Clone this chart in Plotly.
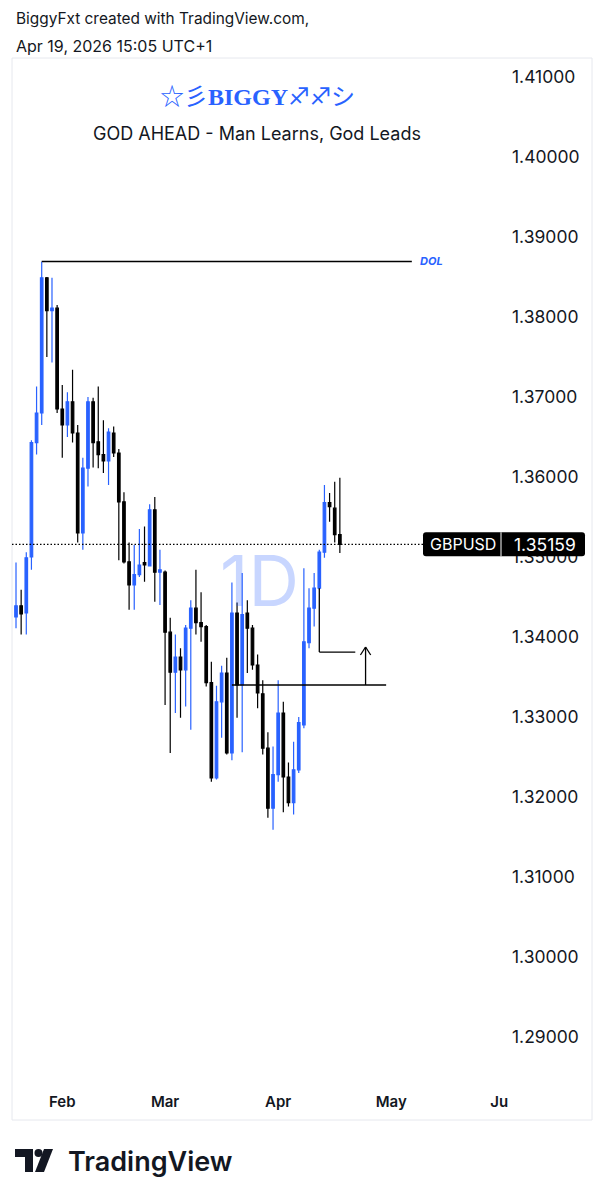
import plotly.graph_objects as go

# ---------------- data (GBPUSD, 1D) ----------------
dates = [
    "2026-01-20", "2026-01-21", "2026-01-22", "2026-01-23", "2026-01-26", "2026-01-27", "2026-01-28", "2026-01-29", "2026-01-30",
    "2026-02-02", "2026-02-03", "2026-02-04", "2026-02-05", "2026-02-06", "2026-02-09", "2026-02-10", "2026-02-11", "2026-02-12",
    "2026-02-13", "2026-02-16", "2026-02-17", "2026-02-18", "2026-02-19", "2026-02-20", "2026-02-23", "2026-02-24", "2026-02-25",
    "2026-02-26", "2026-02-27",
    "2026-03-02", "2026-03-03", "2026-03-04", "2026-03-05", "2026-03-06", "2026-03-09", "2026-03-10", "2026-03-11", "2026-03-12",
    "2026-03-13", "2026-03-16", "2026-03-17", "2026-03-18", "2026-03-19", "2026-03-20", "2026-03-23", "2026-03-24", "2026-03-25",
    "2026-03-26", "2026-03-27", "2026-03-30", "2026-03-31",
    "2026-04-01", "2026-04-02", "2026-04-03", "2026-04-06", "2026-04-07", "2026-04-08", "2026-04-09", "2026-04-10", "2026-04-13",
    "2026-04-14", "2026-04-15", "2026-04-16", "2026-04-17",
]
opens = [
    1.3425, 1.3439, 1.3430, 1.3500, 1.3643, 1.3680, 1.3849, 1.3808, 1.3811,
    1.3685, 1.3665, 1.3694, 1.3655, 1.3530, 1.3611, 1.3694, 1.3644, 1.3628,
    1.3620, 1.3655, 1.3630, 1.3569, 1.3494, 1.3465, 1.3478, 1.3493, 1.3489,
    1.3559, 1.3481,
    1.3481, 1.3406, 1.3356, 1.3375, 1.3359, 1.3411, 1.3436, 1.3418, 1.3413,
    1.3343, 1.3224, 1.3319, 1.3355, 1.3255, 1.3430, 1.3340, 1.3430, 1.3411,
    1.3365, 1.3329, 1.3261, 1.3186,
    1.3228, 1.3305, 1.3225, 1.3193, 1.3234, 1.3290, 1.3393, 1.3436, 1.3461,
    1.3506, 1.3568, 1.3561, 1.3528,
]
highs = [
    1.3493, 1.3459, 1.3506, 1.3646, 1.3713, 1.3869, 1.3850, 1.3849, 1.3815,
    1.3715, 1.3706, 1.3734, 1.3665, 1.3624, 1.3700, 1.3699, 1.3713, 1.3671,
    1.3661, 1.3663, 1.3635, 1.3581, 1.3518, 1.3515, 1.3535, 1.3538, 1.3566,
    1.3575, 1.3509,
    1.3483, 1.3424, 1.3403, 1.3386, 1.3415, 1.3446, 1.3484, 1.3456, 1.3415,
    1.3369, 1.3339, 1.3364, 1.3374, 1.3468, 1.3443, 1.3480, 1.3446, 1.3415,
    1.3378, 1.3346, 1.3281, 1.3263,
    1.3346, 1.3319, 1.3243, 1.3269, 1.3300, 1.3486, 1.3461, 1.3480, 1.3509,
    1.3590, 1.3580, 1.3594, 1.3599,
]
lows = [
    1.3411, 1.3403, 1.3403, 1.3484, 1.3628, 1.3665, 1.3750, 1.3743, 1.3680,
    1.3624, 1.3650, 1.3643, 1.3518, 1.3509, 1.3588, 1.3612, 1.3611, 1.3605,
    1.3590, 1.3625, 1.3496, 1.3492, 1.3434, 1.3434, 1.3475, 1.3469, 1.3488,
    1.3444, 1.3440,
    1.3315, 1.3255, 1.3305, 1.3299, 1.3313, 1.3284, 1.3403, 1.3394, 1.3338,
    1.3219, 1.3222, 1.3274, 1.3253, 1.3246, 1.3299, 1.3256, 1.3355, 1.3359,
    1.3311, 1.3253, 1.3174, 1.3159,
    1.3219, 1.3181, 1.3188, 1.3178, 1.3230, 1.3286, 1.3386, 1.3413, 1.3459,
    1.3499, 1.3544, 1.3518, 1.3505,
]
closes = [
    1.3439, 1.3429, 1.3499, 1.3643, 1.3680, 1.3849, 1.3808, 1.3811, 1.3685,
    1.3665, 1.3694, 1.3655, 1.3530, 1.3611, 1.3694, 1.3643, 1.3628, 1.3620,
    1.3656, 1.3630, 1.3569, 1.3494, 1.3465, 1.3478, 1.3490, 1.3490, 1.3559,
    1.3481, 1.3484,
    1.3406, 1.3356, 1.3375, 1.3359, 1.3411, 1.3436, 1.3418, 1.3413, 1.3343,
    1.3224, 1.3319, 1.3355, 1.3255, 1.3430, 1.3340, 1.3428, 1.3411, 1.3365,
    1.3330, 1.3261, 1.3186, 1.3228,
    1.3305, 1.3225, 1.3193, 1.3234, 1.3293, 1.3394, 1.3436, 1.3461, 1.3506,
    1.3568, 1.3563, 1.3528, 1.35159,
]

price_ticks = [1.29, 1.30, 1.31, 1.32, 1.33, 1.34, 1.35, 1.36, 1.37, 1.38, 1.39, 1.40, 1.41]
month_ticks = ["2026-02-02", "2026-03-02", "2026-04-01", "2026-05-01", "2026-06-01"]
month_labels = ["Feb", "Mar", "Apr", "May", "Ju"]

# drawings
dol_level = 1.38694
dol_start, dol_end = "2026-01-27", "2026-05-07"
support_level = 1.3340
support_start, support_end = "2026-03-19", "2026-04-30"
retest_top, retest_level = 1.3461, 1.33812
retest_start, retest_end = "2026-04-13", "2026-04-22"
arrow_date, arrow_left, arrow_right = "2026-04-24", "2026-04-23", "2026-04-27"
arrow_tip, arrow_wing = 1.33875, 1.33775

symbol = "GBPUSD"

# ---------------- styling ----------------
BLUE = "#2962FF"
INK = "#131722"
FONT = "Inter, 'Noto Sans', sans-serif"
W, H = 606, 1200
L, R, T, B = 12, 511, 60, 1085


def px(x):
    return (x - L) / (R - L)


def py(y):
    return (B - y) / (B - T)


def noon(d):
    return d + " 12:00"


fig = go.Figure()
fig.add_trace(go.Candlestick(
    x=[noon(d) for d in dates], open=opens, high=highs, low=lows, close=closes,
    increasing=dict(line=dict(color=BLUE, width=1.2), fillcolor=BLUE),
    decreasing=dict(line=dict(color="#000000", width=1.2), fillcolor="#000000"),
    whiskerwidth=0, showlegend=False, hoverinfo="skip",
))

shapes = []
# outer frame
shapes.append(dict(type="rect", xref="paper", yref="paper", x0=px(12), x1=px(592), y0=py(58), y1=py(1120),
                   line=dict(color="#E6E8EE", width=1), layer="below"))
# DOL line
shapes.append(dict(type="line", xref="x", yref="y", x0=noon(dol_start), x1=noon(dol_end), y0=dol_level, y1=dol_level,
                   line=dict(color="#000000", width=1.3)))
# support line
shapes.append(dict(type="line", xref="x", yref="y", x0=noon(support_start), x1=noon(support_end),
                   y0=support_level, y1=support_level, line=dict(color="#000000", width=1.3)))
# retest L
shapes.append(dict(type="line", xref="x", yref="y", x0=noon(retest_start), x1=noon(retest_start),
                   y0=retest_top, y1=retest_level, line=dict(color="#000000", width=1.3)))
shapes.append(dict(type="line", xref="x", yref="y", x0=noon(retest_start), x1=noon(retest_end),
                   y0=retest_level, y1=retest_level, line=dict(color="#000000", width=1.3)))
# arrow
shapes.append(dict(type="line", xref="x", yref="y", x0=noon(arrow_date), x1=noon(arrow_date),
                   y0=support_level, y1=arrow_tip, line=dict(color="#000000", width=1.3)))
shapes.append(dict(type="line", xref="x", yref="y", x0=noon(arrow_left), x1=noon(arrow_date),
                   y0=arrow_wing, y1=arrow_tip, line=dict(color="#000000", width=1.3)))
shapes.append(dict(type="line", xref="x", yref="y", x0=noon(arrow_date), x1=noon(arrow_right),
                   y0=arrow_tip, y1=arrow_wing, line=dict(color="#000000", width=1.3)))
# last price dotted line
last = closes[-1]
shapes.append(dict(type="line", xref="paper", yref="y", x0=0, x1=px(423), y0=last, y1=last,
                   line=dict(color="#000000", width=1.2, dash="1.5px,2px")))
# last price label box (rounded)
h = 0.0015
x0p, x1p = px(423), px(585)
rx, ry = 3 / (R - L), 3 / 8000
path = (f"M {x0p + rx} {last + h} L {x1p - rx} {last + h} Q {x1p} {last + h} {x1p} {last + h - ry} "
        f"L {x1p} {last - h + ry} Q {x1p} {last - h} {x1p - rx} {last - h} "
        f"L {x0p + rx} {last - h} Q {x0p} {last - h} {x0p} {last - h + ry} "
        f"L {x0p} {last + h - ry} Q {x0p} {last + h} {x0p + rx} {last + h} Z")
shapes.append(dict(type="path", xref="paper", yref="y", path=path, fillcolor="#000000",
                   line=dict(width=0), layer="above"))
shapes.append(dict(type="line", xref="paper", yref="y", x0=px(501), x1=px(501), y0=last - h, y1=last + h,
                   line=dict(color="#FFFFFF", width=1), layer="above"))

# TradingView logo mark
shapes.append(dict(type="rect", xref="paper", yref="paper", x0=px(15), x1=px(33), y0=py(1157), y1=py(1149),
                   fillcolor="#131722", line=dict(width=0)))
shapes.append(dict(type="rect", xref="paper", yref="paper", x0=px(25), x1=px(33), y0=py(1172), y1=py(1149),
                   fillcolor="#131722", line=dict(width=0)))
shapes.append(dict(type="circle", xref="paper", yref="paper", x0=px(34.5), x1=px(42.5), y0=py(1157), y1=py(1149),
                   fillcolor="#131722", line=dict(width=0)))
shapes.append(dict(type="path", xref="paper", yref="paper",
                   path=f"M {px(44)} {py(1149)} L {px(53)} {py(1149)} L {px(44)} {py(1172)} L {px(35)} {py(1172)} Z",
                   fillcolor="#131722", line=dict(width=0)))

annotations = [
    dict(xref="paper", yref="paper", x=px(14), y=py(19), xanchor="left", yanchor="middle", showarrow=False,
         text="BiggyFxt created with TradingView.com,", font=dict(family=FONT, size=15.4, color=INK)),
    dict(xref="paper", yref="paper", x=px(14), y=py(46), xanchor="left", yanchor="middle", showarrow=False,
         text="Apr 19, 2026 15:05 UTC+1", font=dict(family=FONT, size=16, color=INK)),
    dict(xref="paper", yref="paper", x=px(257), y=py(97), xanchor="center", yanchor="middle", showarrow=False,
         text="☆彡<b>BIGGY</b>♐︎♐︎シ",
         font=dict(family="'Liberation Serif', 'Noto Sans CJK JP', 'DejaVu Sans', serif", size=24, color=BLUE)),
    dict(xref="paper", yref="paper", x=px(257), y=py(134), xanchor="center", yanchor="middle", showarrow=False,
         text="GOD AHEAD - Man Learns, God Leads", font=dict(family=FONT, size=18, color=INK)),
    dict(xref="paper", yref="paper", x=px(259), y=py(580), xanchor="center", yanchor="middle", showarrow=False,
         text="1D", font=dict(family=FONT, size=70, color="rgba(41,98,255,0.26)")),
    dict(xref="x", yref="y", x=noon(dol_end), y=dol_level, xanchor="left", yanchor="middle", xshift=6,
         showarrow=False, text="<b><i>DOL</i></b>", font=dict(family=FONT, size=11, color=BLUE)),
    dict(xref="paper", yref="y", x=px(428), y=last, xanchor="left", yanchor="middle", showarrow=False,
         text=symbol, font=dict(family=FONT, size=16, color="#FFFFFF")),
    dict(xref="paper", yref="y", x=px(512), y=last, xanchor="left", yanchor="middle", showarrow=False,
         text=f"{last:.5f}", font=dict(family=FONT, size=17.5, color="#FFFFFF")),
    dict(xref="paper", yref="paper", x=px(66), y=py(1161), xanchor="left", yanchor="middle", showarrow=False,
         text="TradingView", font=dict(family=FONT, size=27, color=INK, weight=600)),
]

y_top = 1.41 + (77 - T) / 8000
y_bot = 1.41 - (B - 77) / 8000

fig.update_layout(
    width=W, height=H,
    margin=dict(l=L, r=W - R, t=T, b=H - B, pad=0),
    paper_bgcolor="#FFFFFF", plot_bgcolor="#FFFFFF",
    showlegend=False,
    shapes=shapes, annotations=annotations,
    xaxis=dict(
        type="date", range=["2026-01-19 17:17", "2026-06-03 19:00"],
        rangebreaks=[dict(bounds=["sat", "mon"])],
        rangeslider=dict(visible=False),
        tickvals=[noon(d) for d in month_ticks], ticktext=month_labels,
        ticks="", showgrid=False, zeroline=False, showline=False,
        ticklabelstandoff=6,
        tickfont=dict(family=FONT, size=15, color=INK, weight=600),
        fixedrange=True,
    ),
    yaxis=dict(
        side="right", range=[y_bot, y_top],
        tickvals=price_ticks, ticktext=[f"{v:.5f}" for v in price_ticks],
        ticks="", showgrid=False, zeroline=False, showline=False,
        tickfont=dict(family=FONT, size=17.5, color=INK),
        fixedrange=True,
    ),
)

fig.write_html("out.html", config={"displayModeBar": False},
               post_script="document.body.style.margin='0px';document.body.style.overflow='hidden';")
